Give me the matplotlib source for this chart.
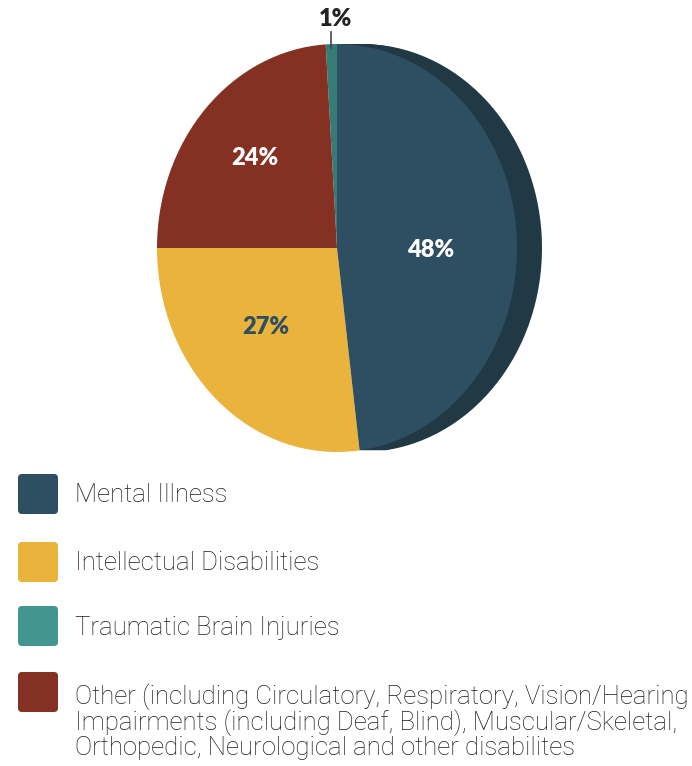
import matplotlib.pyplot as plt
from matplotlib.patches import FancyBboxPatch

# data (pie order: counter-clockwise from the top)
labels = ["Traumatic Brain Injuries", "Other", "Intellectual Disabilities", "Mental Illness"]
values = [1, 24, 27, 48]
colors = ["#367c76", "#843023", "#e9b33c", "#2e4e61"]
shadow_color = "#213845"

legend_labels = [
    "Mental Illness",
    "Intellectual Disabilities",
    "Traumatic Brain Injuries",
    "Other (including Circulatory, Respiratory, Vision/Hearing\n"
    "Impairments (including Deaf, Blind), Muscular/Skeletal,\n"
    "Orthopedic, Neurological and other disabilites",
]
legend_colors = ["#2e4e61", "#e9b33c", "#43958f", "#843023"]

W, H = 692, 766
fig = plt.figure(figsize=(W / 100, H / 100), dpi=100)

# =========================
# Pie (elliptical, with a dark extrusion behind the big slice)
# =========================
cx, cy, rx, ry = 337, 248, 180, 204
ax = fig.add_axes([0, 0, 1, 1])

shift = 25 / rx
n_steps = 12
for i in range(n_steps, 0, -1):
    dx = shift * i / n_steps
    wedges, _ = ax.pie(values, startangle=90, counterclock=True,
                       colors=["none"] * len(values), center=(dx, 0),
                       wedgeprops=dict(linewidth=0))
    wedges[3].set_facecolor(shadow_color)

wedges, _ = ax.pie(values, startangle=90, counterclock=True, colors=colors,
                   wedgeprops=dict(linewidth=0))

ax.set_aspect("auto")
ax.set_xlim(-cx / rx, (W - cx) / rx)
ax.set_ylim(-(H - cy) / ry, cy / ry)
ax.axis("off")

lab_font = dict(family="Lato", fontweight="heavy", fontsize=17, ha="center", va="center")
ax.text((431 - cx) / rx, (cy - 250) / ry, f"{values[3]}%", color="white", **lab_font)
ax.text((266 - cx) / rx, (cy - 327) / ry, f"{values[2]}%", color="#2e4e61", **lab_font)
ax.text((255 - cx) / rx, (cy - 158) / ry, f"{values[1]}%", color="white", **lab_font)
ax.text((335 - cx) / rx, (cy - 19) / ry, f"{values[0]}%", color="#222222", **lab_font)
ax.plot([(331 - cx) / rx] * 2, [(cy - 32) / ry, (cy - 48) / ry], color="#444444", lw=1.2)

# =========================
# Legend
# =========================
lax = fig.add_axes([0, 0, 1, 1])
lax.set_xlim(0, W)
lax.set_ylim(H, 0)
lax.axis("off")

box_tops = [474, 542, 606, 672]
text_ys = [495, 563, 628, 697]
line_gap = 25.5
for lab, col, top, ty in zip(legend_labels, legend_colors, box_tops, text_ys):
    lax.add_patch(FancyBboxPatch((18, top), 40, 40,
                                 boxstyle="round,pad=0,rounding_size=4",
                                 facecolor=col, edgecolor="none"))
    for k, line in enumerate(lab.split("\n")):
        lax.text(75, ty + k * line_gap, line, fontsize=18.5, family="Roboto",
                 fontweight="light", color="#1c1c1c", ha="left", va="center")

fig.savefig("out.png", dpi=100)
